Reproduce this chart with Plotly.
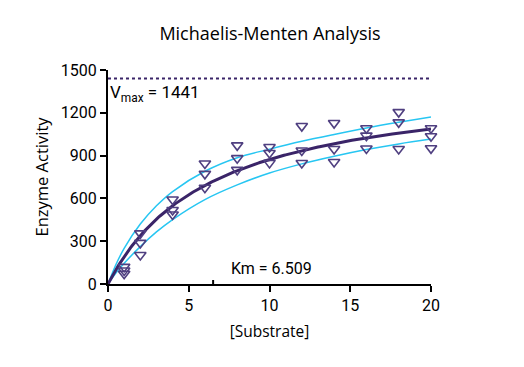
import plotly.graph_objects as go

# ---- data ----
substrate = [1, 1, 1, 2, 2, 2, 4, 4, 4, 6, 6, 6, 8, 8, 8, 10, 10, 10,
             12, 12, 12, 14, 14, 14, 16, 16, 16, 18, 18, 18, 20, 20, 20]
activity = [120, 95, 72, 355, 288, 203, 592, 519, 487, 845, 772, 675,
            972, 882, 800, 960, 918, 849, 1107, 936, 848, 1128, 946, 855,
            1092, 1040, 950, 1205, 1133, 946, 1092, 1036, 951]

vmax = 1441
km = 6.509

band_x = [0, 0.5, 1, 2, 3, 4, 6, 8, 10, 12, 14, 16, 18, 20]
band_upper = [0, 138, 250, 420, 548, 648, 790, 885, 945, 1000, 1048, 1093, 1133, 1170]
band_lower = [0, 78, 145, 262, 365, 452, 592, 695, 778, 842, 895, 942, 982, 1016]

x_ticks = [0, 5, 10, 15, 20]
y_ticks = [0, 300, 600, 900, 1200, 1500]

# fitted Michaelis-Menten curve from the stated parameters
fit_x = [i * 0.1 for i in range(0, 201)]
fit_y = [vmax * s / (km + s) for s in fit_x]

DARK = "#3a2468"
MARK = "#4f3f80"
CYAN = "#27c6f2"
TXT = "#000000"

fig = go.Figure()
fig.add_trace(go.Scatter(x=band_x, y=band_upper, mode="lines", line=dict(color=CYAN, width=1.5, shape="spline"),
                         hoverinfo="skip", showlegend=False))
fig.add_trace(go.Scatter(x=band_x, y=band_lower, mode="lines", line=dict(color=CYAN, width=1.5, shape="spline"),
                         hoverinfo="skip", showlegend=False))
fig.add_trace(go.Scatter(x=fit_x, y=fit_y, mode="lines", line=dict(color=DARK, width=3),
                         showlegend=False))
fig.add_trace(go.Scatter(x=substrate, y=activity, mode="markers", cliponaxis=False,
                         marker=dict(symbol="triangle-down-open", size=10, color=MARK,
                                     line=dict(width=1.6, color=MARK)),
                         showlegend=False))
# Vmax dotted line
fig.add_trace(go.Scatter(x=[0, 20], y=[vmax, vmax], mode="lines", cliponaxis=False,
                         line=dict(color=DARK, width=2, dash="dot"), showlegend=False))
# Km tick
fig.add_trace(go.Scatter(x=[km, km], y=[0, 28], mode="lines", cliponaxis=False,
                         line=dict(color="black", width=2), showlegend=False))

axis_common = dict(showgrid=False, zeroline=False, showline=True, linecolor="black", linewidth=2,
                   ticks="outside", ticklen=6, tickwidth=2, tickcolor="black",
                   tickfont=dict(family="Roboto", size=16, color=TXT))

fig.update_layout(
    width=524, height=367,
    margin=dict(l=100, r=101, t=62, b=91),
    paper_bgcolor="white", plot_bgcolor="white",
    title=dict(text="Michaelis-Menten Analysis", x=0.5, xanchor="center", y=0.93, yanchor="middle",
               font=dict(family="Open Sans", size=18, color=TXT)),
    xaxis=dict(range=[0, 20], tickvals=x_ticks, ticktext=[str(v) for v in x_ticks],
               title=dict(text="[Substrate]", font=dict(family="Open Sans", size=15.5, color=TXT), standoff=12),
               **axis_common),
    yaxis=dict(range=[0, 1500], tickvals=y_ticks, ticktext=[str(v) for v in y_ticks],
               title=dict(text="Enzyme Activity", font=dict(family="Open Sans", size=16.5, color=TXT), standoff=8),
               **axis_common),
    annotations=[
        dict(x=0.005, y=1335, xref="x", yref="y", xanchor="left", yanchor="middle", showarrow=False,
             text="V<sub>max</sub> = 1441", font=dict(family="Roboto", size=17, color=TXT)),
        dict(x=7.5, y=110, xref="x", yref="y", xanchor="left", yanchor="middle", showarrow=False,
             text="Km = 6.509", font=dict(family="Roboto", size=16, color=TXT)),
    ],
)

fig.write_html("out.html")
